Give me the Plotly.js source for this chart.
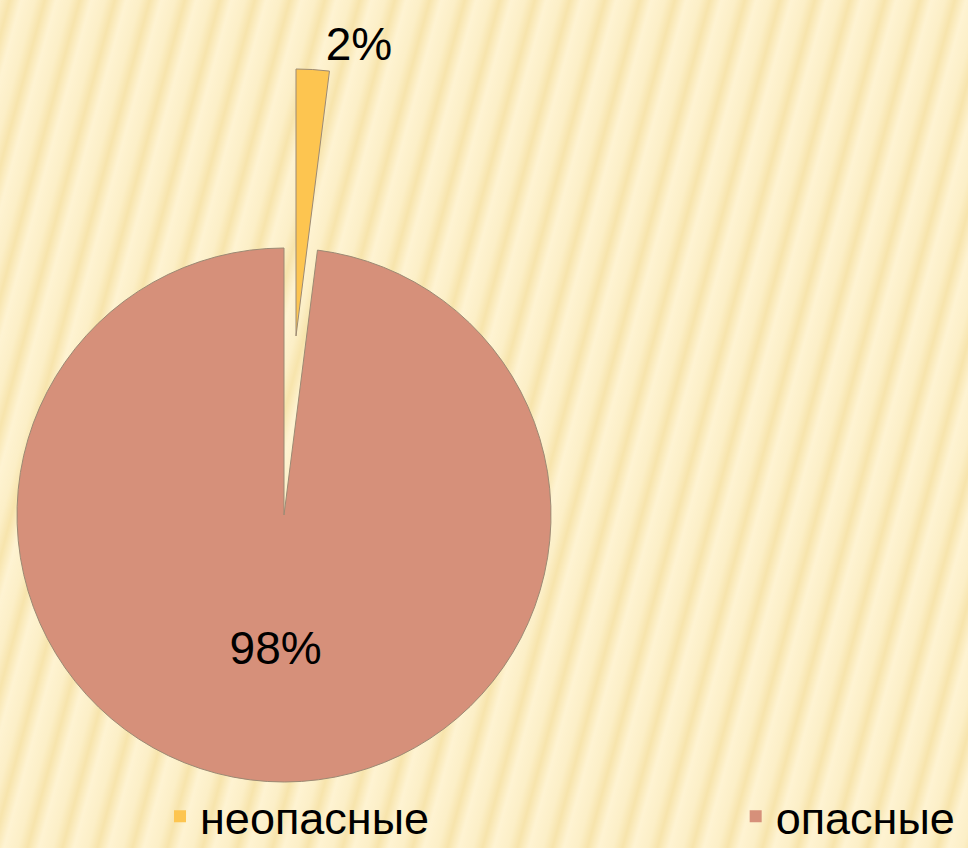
<!DOCTYPE html>
<html>
<head>
<meta charset="utf-8">
<script src="https://cdn.plot.ly/plotly-3.0.1.min.js"></script>
<style>html,body{margin:0;padding:0;background:#FCEEC2;}#chart{width:968px;height:848px;}</style>
</head>
<body>
<div id="chart"></div>
<script>
// ---- data ----
const labels = ['неопасные', 'опасные'];
const values = [2, 98];
const sliceColors = ['#FDC550', '#D6907A'];
const clear = 'rgba(0,0,0,0)';

const W = 968, H = 848;
const FONT = 'Liberation Sans, Arial, sans-serif';

// background stripes (decoration)
const svg = "<svg xmlns='http://www.w3.org/2000/svg' width='968' height='848'>" +
  "<defs><linearGradient id='g' x1='0' x2='1' y1='0' y2='0'>" +
  "<stop offset='0' stop-color='#FCEFC7'/>" +
  "<stop offset='0.28' stop-color='#F7E4AC'/>" +
  "<stop offset='0.6' stop-color='#FEF3D2'/>" +
  "<stop offset='1' stop-color='#FCEFC7'/>" +
  "</linearGradient>" +
  "<pattern id='p' width='35' height='848' patternUnits='userSpaceOnUse' patternTransform='skewX(-15)'>" +
  "<rect width='35' height='848' fill='url(#g)'/></pattern></defs>" +
  "<rect width='968' height='848' fill='url(#p)'/></svg>";
const bg = 'data:image/svg+xml;charset=utf-8,' + encodeURIComponent(svg);

// pie geometry helper: centre (px) and radius (px) -> domain
function dom(cx, cy, r) {
  return { x: [(cx - r) / W, (cx + r) / W], y: [(H - cy - r) / H, (H - cy + r) / H] };
}
const R = 267;
const tiny = { x: [0.001, 0.0012], y: [0.998, 0.9982] };

const common = {
  type: 'pie', labels: labels, values: values, sort: false,
  direction: 'clockwise', rotation: 0, hoverinfo: 'label+percent'
};

const traces = [
  // legend carriers (invisibly small), one per legend
  {
    type: 'pie', labels: [labels[0]], values: [values[0]], domain: tiny,
    marker: { colors: [sliceColors[0]], line: { width: 0 } },
    textinfo: 'none', showlegend: true, legend: 'legend'
  },
  {
    type: 'pie', labels: [labels[1]], values: [values[1]], domain: tiny,
    marker: { colors: [sliceColors[1]], line: { width: 0 } },
    textinfo: 'none', showlegend: true, legend: 'legend2'
  },
  // main slice (опасные)
  Object.assign({}, common, {
    domain: dom(284, 515, R),
    marker: { colors: [clear, sliceColors[1]], line: { color: [clear, '#9C8A74'], width: 1 } },
    texttemplate: ['', '%{percent}'], textposition: 'inside',
    insidetextfont: { family: FONT, size: 46, color: '#000' },
    showlegend: false
  }),
  // exploded slice (неопасные)
  Object.assign({}, common, {
    domain: dom(296, 336, R),
    marker: { colors: [sliceColors[0], clear], line: { color: ['#9C8A74', clear], width: 1 } },
    texttemplate: ['%{percent}', ''], textposition: 'outside',
    outsidetextfont: { family: FONT, size: 46, color: '#000' },
    showlegend: false
  })
];

const legendBase = {
  orientation: 'h', y: 0.037, xanchor: 'left', yanchor: 'middle',
  bgcolor: 'rgba(0,0,0,0)', font: { family: FONT, size: 45, color: '#000' }
};

const layout = {
  width: W, height: H,
  margin: { l: 0, r: 0, t: 0, b: 0, autoexpand: false },
  paper_bgcolor: '#FCEEC2',
  font: { family: FONT, color: '#000' },
  showlegend: true,
  legend: Object.assign({}, legendBase, { x: 0.1653 }),
  legend2: Object.assign({}, legendBase, { x: 0.76 }),
  images: [{ source: bg, xref: 'paper', yref: 'paper', x: 0, y: 1, sizex: 1, sizey: 1,
    sizing: 'stretch', xanchor: 'left', yanchor: 'top', layer: 'below' }]
};

Plotly.newPlot('chart', traces, layout, { displayModeBar: false, staticPlot: true });
</script>
</body>
</html>
